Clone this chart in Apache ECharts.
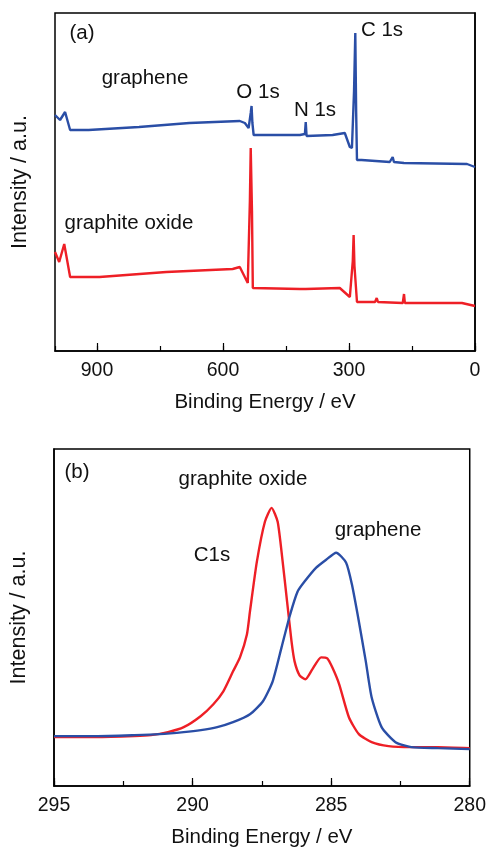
<!DOCTYPE html>
<html>
<head>
<meta charset="utf-8">
<script src="https://cdn.jsdelivr.net/npm/echarts@6/dist/echarts.min.js"></script>
<style>html,body{margin:0;padding:0;background:#fff}#c{width:489px;height:849px}</style>
</head>
<body>
<div id="c"></div>
<script>
// ---- Panel (a): survey spectra ----
const surveyTicks = [0, 300, 600, 900];
const grapheneSurveyBE = [1000, 988, 976, 964, 920, 800, 680, 560, 548, 539, 534, 532, 530, 527, 496, 417, 405, 403, 401, 339, 310, 298, 293, 288, 285, 283, 281, 270, 203, 196, 193, 169, 19, 0];
const grapheneSurveyI  = [236, 231, 239, 221, 221, 224, 228, 230, 228, 223, 238, 245, 228, 216, 216, 216, 217, 229, 215, 216, 218, 204, 203, 260, 318, 240, 191, 191, 189, 194, 189, 188, 187, 184];
const goSurveyBE = [1000, 990, 978, 964, 894, 735, 577, 560, 541, 536, 534, 531, 529, 417, 403, 401, 399, 322, 298, 291, 289, 287, 281, 238, 234, 231, 172, 169, 167, 31, 29, 27, 0];
const goSurveyI  = [99, 89, 107, 74, 74, 79, 82, 84, 68, 150, 203, 140, 63, 62, 62, 64, 62, 63, 54, 90, 116, 85, 49, 49, 53, 49, 48, 57, 48, 48, 50, 48, 45];

// ---- Panel (b): C1s high resolution ----
const c1sTicks = [280, 285, 290, 295];
const grapheneC1sBE = [295, 293.5, 292.1, 291.2, 290.32, 289.7, 289.11, 288.54, 287.93, 287.46, 287.11, 286.79, 286.5, 286.21, 285.96, 285.54, 285.18, 284.82, 284.46, 284.25, 284.0, 283.75, 283.54, 283.18, 282.68, 282.11, 281.14, 280];
const grapheneC1sI  = [50, 50, 51, 52, 54, 56, 59, 64, 72, 85, 105, 139, 170, 195, 205, 219, 227, 234, 224, 202, 165, 125, 89, 59, 44, 39, 38, 37];
const goC1sBE = [295, 293.5, 292.1, 291.5, 290.89, 290.32, 289.71, 289.25, 288.89, 288.54, 288.29, 288.04, 287.93, 287.68, 287.39, 287.15, 286.93, 286.75, 286.59, 286.43, 286.32, 286.14, 285.93, 285.68, 285.36, 285.14, 284.96, 284.71, 284.36, 284.0, 283.54, 282.93, 282.11, 281.14, 280];
const goC1sI  = [49, 49, 50, 51, 54, 59, 70, 82, 95, 115, 129, 152, 175, 225, 265, 279, 265, 225, 185, 145, 125, 111, 107, 117, 129, 128, 119, 102, 69, 52, 44, 40, 39, 39, 38];

const zip = (a, b) => a.map((v, i) => [v, b[i]]);
const BLUE = '#2a4ea6', RED = '#ee1f26', INK = '#111';
const FONT = 'Liberation Sans, Arial, sans-serif';

function mainX(gi, min, max, interval) {
  return {
    type: 'value', gridIndex: gi, min, max, interval, inverse: true,
    name: 'Binding Energy / eV', nameLocation: 'middle', nameGap: 41,
    nameTextStyle: { fontSize: 20.5, color: INK, fontFamily: FONT },
    axisLine: { show: true, lineStyle: { color: '#000', width: 1.5 } },
    axisTick: { show: true, inside: true, length: 8, lineStyle: { color: '#000', width: 1.2 } },
    axisLabel: { fontSize: 19.5, color: INK, fontFamily: FONT, margin: 10, showMaxLabel: gi === 1, showMinLabel: true },
    splitLine: { show: false }
  };
}
function minorX(gi, min, max, interval) {
  return {
    type: 'value', gridIndex: gi, min, max, interval, inverse: true, position: 'bottom',
    axisLine: { show: false },
    axisTick: { show: true, inside: true, length: 5, lineStyle: { color: '#000', width: 1.2 } },
    axisLabel: { show: false }, splitLine: { show: false }
  };
}
function yAx(gi) {
  return {
    type: 'value', gridIndex: gi, min: 0, max: 338,
    name: 'Intensity / a.u.', nameLocation: 'middle', nameGap: 24,
    nameTextStyle: { fontSize: 21.5, color: INK, fontFamily: FONT },
    axisLine: { show: true, lineStyle: { color: '#000', width: 1.5 } },
    axisTick: { show: false }, axisLabel: { show: false }, splitLine: { show: false }
  };
}
function line(xi, yi, data, color, smooth) {
  return { type: 'line', xAxisIndex: xi, yAxisIndex: yi, data, showSymbol: false, symbol: 'none',
    smooth: smooth, lineStyle: { color, width: 2.4 }, animation: false };
}
function txt(cx, cy, text) {
  return { type: 'text', x: cx, y: cy,
    style: { text, fontSize: 20.5, fill: INK, fontFamily: FONT,
      align: 'center', verticalAlign: 'middle', textAlign: 'center', textVerticalAlign: 'middle' } };
}

const chart = echarts.init(document.getElementById('c'), null, { renderer: 'canvas' });
chart.setOption({
  animation: false,
  backgroundColor: '#fff',
  grid: [
    { left: 55, top: 13, width: 420, height: 338, show: true, borderColor: '#000', borderWidth: 1.5 },
    { left: 52, top: 449, width: 420, height: 338, show: true, borderColor: '#000', borderWidth: 1.5 }
  ],
  xAxis: [
    mainX(0, 0, 1000, 300), minorX(0, 0, 1000, 150),
    mainX(1, 280, 295, 5), minorX(1, 280, 295, 2.5)
  ],
  yAxis: [yAx(0), yAx(1)],
  series: [
    line(0, 0, zip(grapheneSurveyBE, grapheneSurveyI), BLUE, false),
    line(0, 0, zip(goSurveyBE, goSurveyI), RED, false),
    line(2, 1, zip(goC1sBE, goC1sI), RED, 0.2),
    line(2, 1, zip(grapheneC1sBE, grapheneC1sI), BLUE, 0.2)
  ],
  graphic: [
    txt(82, 33, '(a)'),
    txt(145, 78, 'graphene'),
    txt(258, 92, 'O 1s'),
    txt(315, 110, 'N 1s'),
    txt(382, 30, 'C 1s'),
    txt(129, 223, 'graphite oxide'),
    txt(77, 472, '(b)'),
    txt(243, 479, 'graphite oxide'),
    txt(378, 530, 'graphene'),
    txt(212, 555, 'C1s')
  ]
});
</script>
</body>
</html>
